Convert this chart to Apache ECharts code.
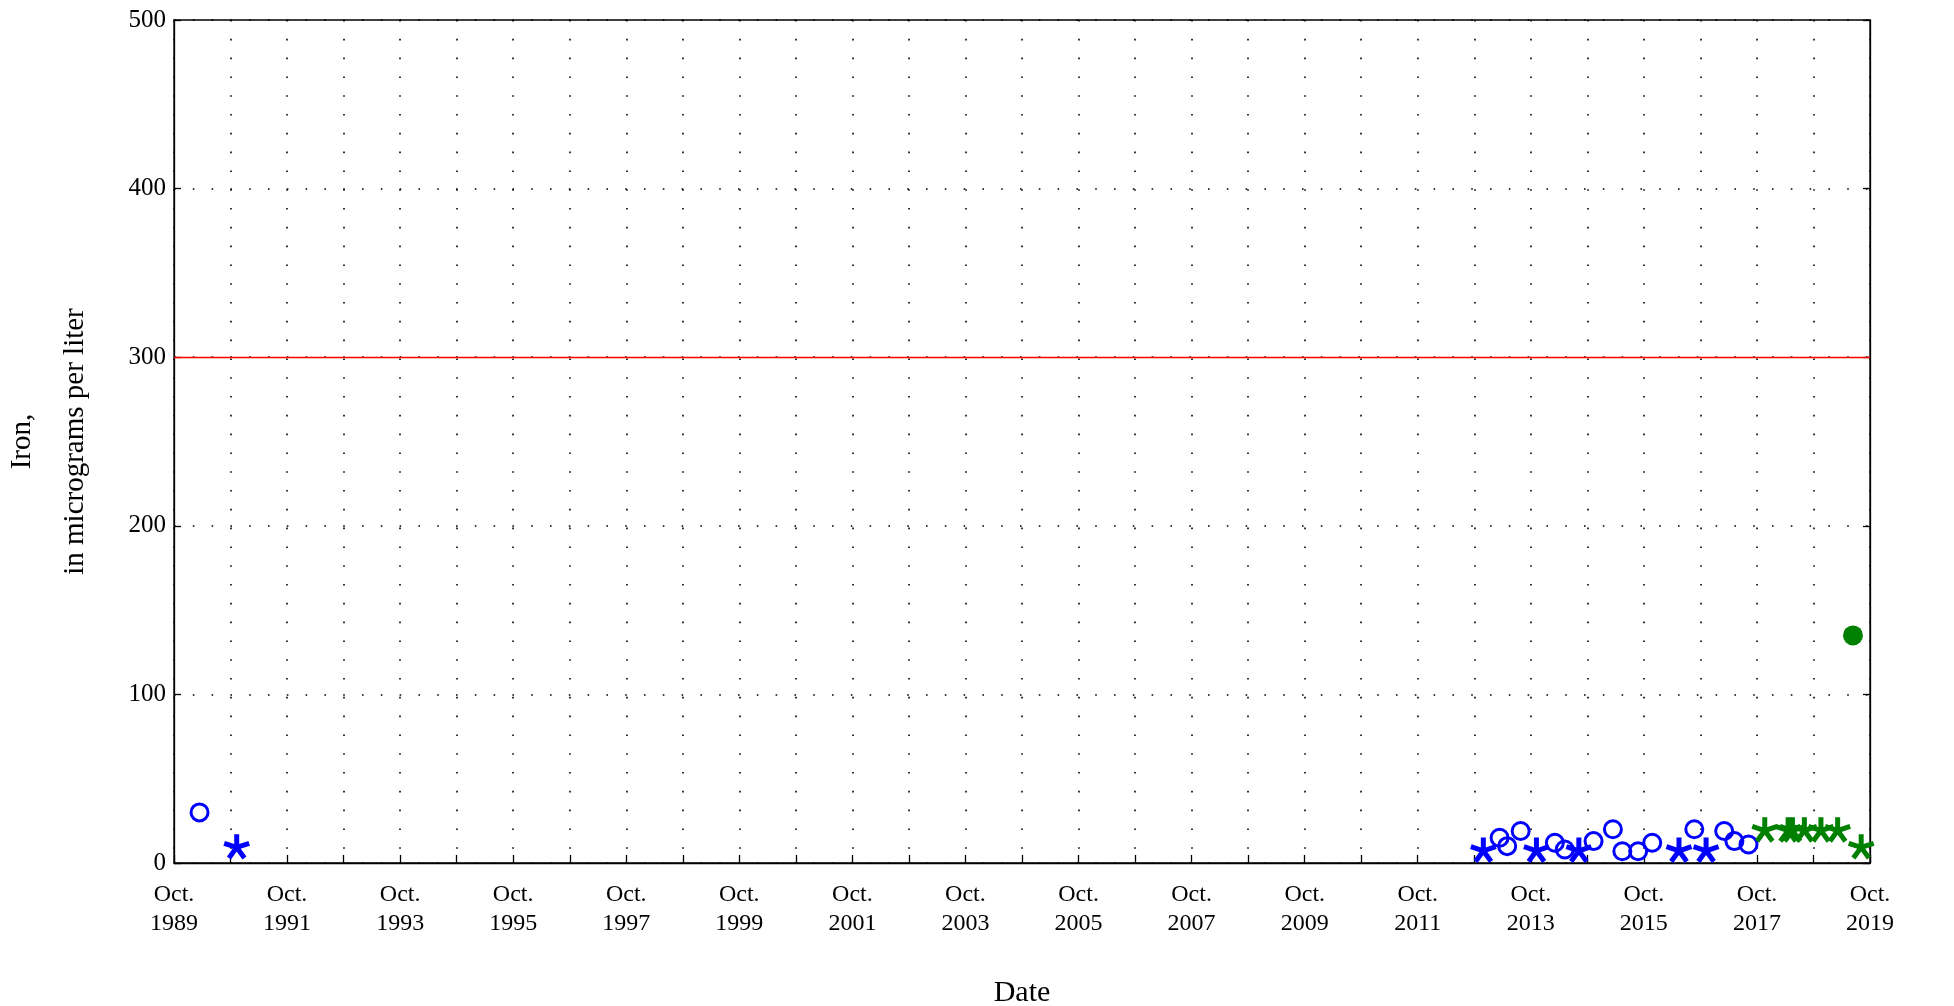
<!DOCTYPE html>
<html>
<head>
<meta charset="utf-8">
<script src="https://cdn.jsdelivr.net/npm/echarts@6/dist/echarts.min.js"></script>
<style>
html,body{margin:0;padding:0;background:#fff;}
#chart{width:1954px;height:1006px;}
</style>
</head>
<body>
<div id="chart"></div>
<script>
// ---- Data ----
const blueCircleDates = ['1990-03-15','2013-03-13','2013-05-01','2013-07-27','2014-03-05','2014-05-08','2014-11-10','2015-03-15','2015-05-15','2015-08-25','2015-11-24','2016-08-22','2017-03-03','2017-05-08','2017-08-07'];
const blueCircleValues = [30, 15, 10, 19, 12, 8, 13, 20, 7, 7, 12, 20, 19, 13, 11];
const blueStarDates = ['1990-11-10','2012-11-28','2013-11-06','2014-08-07','2016-05-15','2016-11-06'];
const blueStarValues = [10, 8, 8, 8, 8, 8];
const greenStarDates = ['2017-11-20','2018-04-20','2018-05-18','2018-08-03','2018-11-18','2019-03-06','2019-08-05'];
const greenStarValues = [20, 20, 20, 20, 20, 20, 10];
const greenDotDates = ['2019-06-13'];
const greenDotValues = [135];
const referenceLevel = 300;
const yTicks = [0, 100, 200, 300, 400, 500];
const firstYear = 1989, lastYear = 2019;

function toTime(s) { const p = s.split('-').map(Number); return +new Date(p[0], p[1] - 1, p[2]); }
function pairs(d, v) { return d.map((x, i) => [toTime(x), v[i]]); }
function oct(y) { return +new Date(y, 9, 1); }
const yearTicks = [];
for (let y = firstYear; y <= lastYear; y++) yearTicks.push(oct(y));
const labelTicks = [];
for (let y = firstYear; y <= lastYear; y += 2) labelTicks.push(oct(y));

const starPath = 'path://M0,0L0,-10M0,0L9.5,-3.1M0,0L5.9,8.1M0,0L-5.9,8.1M0,0L-9.5,-3.1';
const FONT = 'Liberation Serif';
const BLUE = '#0000ff';
const GREEN = '#008000';

const chart = echarts.init(document.getElementById('chart'), null, {renderer: 'canvas'});
chart.setOption({
  animation: false,
  backgroundColor: '#fff',
  grid: {left: 174, right: 84, top: 20, bottom: 143, outerBoundsMode: 'none', containLabel: false,
    show: true, borderColor: '#000', borderWidth: 1.3, backgroundColor: 'transparent'},
  xAxis: [{
    type: 'value',
    min: oct(firstYear), max: oct(lastYear),
    name: 'Date', nameLocation: 'middle', nameGap: 115,
    nameTextStyle: {fontFamily: FONT, fontSize: 30, color: '#000'},
    axisLine: {show: true, lineStyle: {color: '#000', width: 1.3}},
    axisTick: {show: true, inside: true, length: 8, customValues: yearTicks, lineStyle: {color: '#000', width: 1.3}},
    axisLabel: {customValues: labelTicks, fontFamily: FONT, fontSize: 24, color: '#000', lineHeight: 29, margin: 17,
      formatter: v => 'Oct.\n' + new Date(v).getFullYear()},
    splitLine: {show: true, lineStyle: {color: '#000', width: 1.6, type: [1.6, 17.2]}}
  }],
  yAxis: [{
    type: 'value', min: 0, max: 500, interval: 100,
    name: 'Iron,\nin micrograms per liter', nameLocation: 'middle', nameRotate: 90, nameGap: 72,
    nameTextStyle: {fontFamily: FONT, fontSize: 29, color: '#000', lineHeight: 53},
    axisLine: {show: true, lineStyle: {color: '#000', width: 1.3}},
    axisTick: {show: true, inside: true, length: 7, lineStyle: {color: '#000', width: 1.3}},
    axisLabel: {fontFamily: FONT, fontSize: 25, color: '#000', margin: 8,
      formatter: v => yTicks.includes(v) ? String(v) : ''},
    splitLine: {show: true, lineStyle: {color: '#000', width: 1.6, type: [1.6, 17.2]}}
  }, {
    type: 'value', min: 0, max: 500, interval: 100, position: 'right',
    axisLine: {show: true, lineStyle: {color: '#000', width: 1.3}},
    axisTick: {show: true, inside: true, length: 7, lineStyle: {color: '#000', width: 1.3}},
    axisLabel: {show: false}, splitLine: {show: false}
  }],
  series: [
    {
      type: 'line', data: [], xAxisIndex: 0, yAxisIndex: 0, silent: true,
      markLine: {silent: true, symbol: ['none', 'none'], label: {show: false},
        lineStyle: {color: '#ff0000', width: 1.3, type: 'solid'},
        data: [{yAxis: referenceLevel}]}
    },
    {
      type: 'scatter', name: 'blue circles', data: pairs(blueCircleDates, blueCircleValues),
      symbol: 'circle', symbolSize: 17,
      itemStyle: {color: 'rgba(0,0,0,0)', borderColor: BLUE, borderWidth: 3, opacity: 1}
    },
    {
      type: 'scatter', name: 'blue stars', data: pairs(blueStarDates, blueStarValues),
      symbol: starPath, symbolSize: 25, symbolKeepAspect: true,
      itemStyle: {color: BLUE, borderColor: BLUE, borderWidth: 5, opacity: 1}
    },
    {
      type: 'scatter', name: 'green stars', data: pairs(greenStarDates, greenStarValues),
      symbol: starPath, symbolSize: 25, symbolKeepAspect: true,
      itemStyle: {color: GREEN, borderColor: GREEN, borderWidth: 5, opacity: 1}
    },
    {
      type: 'scatter', name: 'green dot', data: pairs(greenDotDates, greenDotValues),
      symbol: 'circle', symbolSize: 20,
      itemStyle: {color: GREEN, opacity: 1}
    }
  ]
});
</script>
</body>
</html>
